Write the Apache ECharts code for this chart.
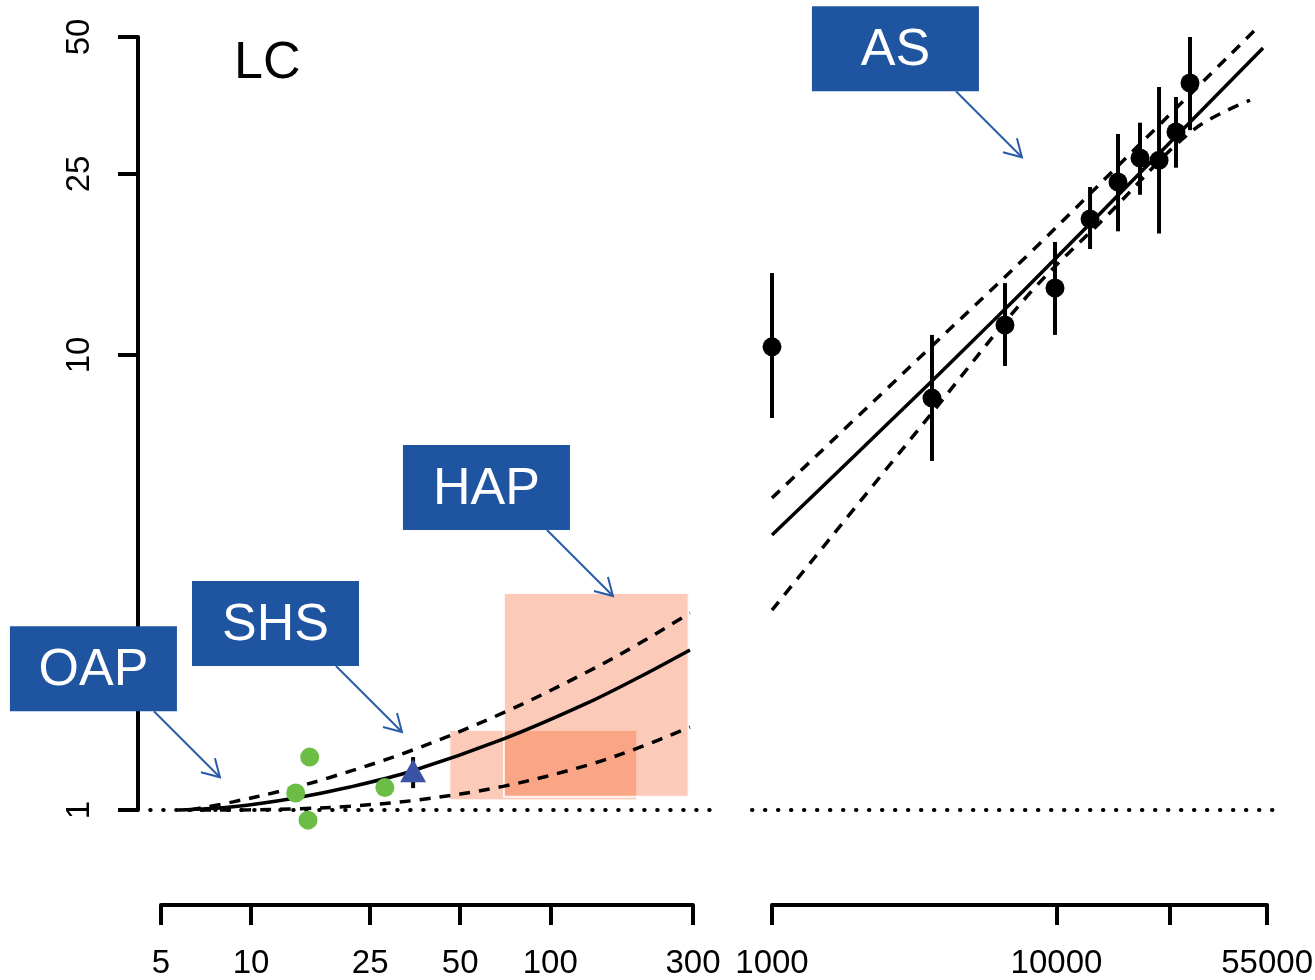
<!DOCTYPE html>
<html>
<head>
<meta charset="utf-8">
<title>LC / AS</title>
<script src="https://cdn.jsdelivr.net/npm/echarts@6.0.0/dist/echarts.min.js"></script>
<style>
  html, body { margin: 0; padding: 0; background: #fff; }
  #chart { width: 1315px; height: 980px; }
</style>
</head>
<body>
<div id="chart"></div>
<script>
// ---- data ----
const leftTicks = [5, 10, 25, 50, 100, 300];
const rightTicks = [1000, 10000, 25000, 55000];
const rightLabels = [1000, 10000, 55000];
const yTicks = [1, 10, 25, 50];

// left panel (LC): fitted curve with dashed band
const lcFit = [[5.7, 1.0], [8.7, 1.017], [14.1, 1.063], [21.4, 1.123], [34.5, 1.218], [69.5, 1.431], [132.7, 1.717], [199.5, 1.963], [293, 2.248]];
const lcUpper = [[6.25, 1.0], [8.7, 1.042], [12.5, 1.10], [18.35, 1.179], [34, 1.348], [69.5, 1.634], [132.7, 2.01], [199.5, 2.328], [293, 2.711]];
const lcLower = [[6.75, 1.0], [9.9, 1.001], [14.6, 1.0066], [21.4, 1.0194], [36.7, 1.0535], [69.5, 1.127], [132.7, 1.254], [199.5, 1.374], [293, 1.522]];
const lcRef = [[4.6, 1], [347, 1]];

// HAP boxes: [xFrom, xTo, yFrom, yTo]
const hapBoxes = [[46, 195, 1.05, 1.5], [70, 290, 1.07, 3.0]];
// SHS points (green) and the single triangle with its bar
const shsPoints = [[15.7, 1.307], [14.1, 1.09], [15.5, 0.95], [28.0, 1.12]];
const triPoint = [[34.8, 1.22]];
const triBar = [[34.8, 1.117, 1.307]];

// right panel (AS)
const asX = [1000, 3650, 6590, 9880, 13120, 16450, 19660, 22930, 26300, 29460];
const asY = [10.42, 8.04, 11.64, 14.04, 19.9, 24.0, 27.1, 26.8, 30.9, 39.6];
const asLow = [7.27, 5.85, 9.46, 11.07, 17.1, 18.7, 22.5, 18.5, 25.8, 31.2];
const asHigh = [15.14, 11.07, 14.39, 17.72, 23.4, 30.6, 32.4, 38.8, 36.9, 50.0];
const asFit = [[1000, 4.02], [2000, 6.1], [3650, 8.77], [6000, 11.9], [9880, 16.25], [20000, 25.4], [53200, 47.3]];
const asUpper = [[1000, 4.85], [3650, 10.47], [8070, 16.76], [20000, 29.4], [50670, 52.3]];
const asLower = [[1000, 2.75], [3650, 7.46], [8070, 13.69], [15000, 20.2], [30190, 31.2], [47870, 36.3]];
const asRef = [[850, 1], [58600, 1]];

// annotation tips [label, x, y]
const leftNotes = [['OAP', 7.87, 1.18], ['SHS', 31.95, 1.484], ['HAP', 162, 2.953]];
const rightNotes = [['AS', 7560, 27.2]];

// ---- layout ----
const lg = Math.log10;
const Y1 = 810, YDEC = 455;          // pixel of y=1, pixels per decade
const XL5 = 161, XLDEC = 299.2;      // left panel: pixel of x=5, px/decade
const XR1 = 772, XRDEC = 284.5;      // right panel: pixel of x=1000, px/decade
const AXIS_Y = 905;
const yRange = [0.85, 56];
const leftRange = [4.3, 352];
const rightRange = [850, 60000];
const FONT = 'Liberation Sans, Arial, sans-serif';
const BLUE = '#1F55A0';

const dataTop = Y1 - YDEC * lg(yRange[1]);
const dataHeight = YDEC * (lg(yRange[1]) - lg(yRange[0]));

const grids = [
  { left: XL5 + XLDEC * (lg(leftRange[0]) - lg(5)), width: XLDEC * (lg(leftRange[1]) - lg(leftRange[0])), top: dataTop, height: dataHeight },
  { left: XR1 + XRDEC * (lg(rightRange[0]) - 3), width: XRDEC * (lg(rightRange[1]) - lg(rightRange[0])), top: dataTop, height: dataHeight },
  { left: XL5, width: XLDEC * (lg(300) - lg(5)), top: AXIS_Y - 1, height: 1 },
  { left: XR1, width: XRDEC * (lg(55000) - 3), top: AXIS_Y - 1, height: 1 },
  { left: 138, width: 1, top: Y1 - YDEC * lg(50), height: YDEC * lg(50) }
].map(g => Object.assign(g, { outerBoundsMode: 'none', containLabel: false }));

const fmt = v => String(Math.round(v));
function shownXAxis(grid, min, max, ticks, labels) {
  return {
    type: 'log', logBase: 10, gridIndex: grid, min: min, max: max, position: 'bottom',
    axisLine: { show: true, lineStyle: { color: '#000', width: 4 } },
    axisTick: { show: true, length: 20, customValues: ticks, lineStyle: { color: '#000', width: 4 } },
    axisLabel: { customValues: labels, formatter: fmt, margin: 42, fontSize: 33, color: '#000', fontFamily: FONT },
    splitLine: { show: false }
  };
}
function hiddenLog(grid, range) {
  return { type: 'log', logBase: 10, gridIndex: grid, min: range[0], max: range[1], show: false, splitLine: { show: false } };
}
function hiddenValue(grid) {
  return { type: 'value', gridIndex: grid, min: 0, max: 1, show: false, splitLine: { show: false } };
}

function curve(data, xi, dashed) {
  return {
    type: 'line', xAxisIndex: xi, yAxisIndex: xi, data: data, showSymbol: false,
    smooth: 0.35, silent: true, z: 3,
    lineStyle: { color: '#000', width: 3.5, type: dashed ? [11, 9] : 'solid' }
  };
}
function refLine(data, xi) {
  return {
    type: 'line', xAxisIndex: xi, yAxisIndex: xi, data: data, showSymbol: false, silent: true, z: 2,
    lineStyle: { color: '#000', width: 4, type: [0.5, 12.5], cap: 'round' }
  };
}
function bars(data, xi) {
  return {
    type: 'custom', xAxisIndex: xi, yAxisIndex: xi, data: data, z: 4, silent: true,
    encode: { x: 0, y: [1, 2] },
    renderItem: function (params, api) {
      const a = api.coord([api.value(0), api.value(1)]);
      const b = api.coord([api.value(0), api.value(2)]);
      return { type: 'line', shape: { x1: a[0], y1: a[1], x2: b[0], y2: b[1] }, style: { stroke: '#000', lineWidth: 4 } };
    }
  };
}
function notes(list, xi) {
  return {
    type: 'custom', xAxisIndex: xi, yAxisIndex: xi, z: 10, silent: true,
    data: list.map(n => [n[1], n[2]]),
    encode: { x: 0, y: 1 },
    renderItem: function (params, api) {
      const tip = api.coord([api.value(0), api.value(1)]);
      const w = 167, h = 85;
      const sx = tip[0] - 66, sy = tip[1] - 66;
      const bx = sx + 23 - w, by = sy - h;
      return {
        type: 'group',
        children: [
          { type: 'rect', shape: { x: bx, y: by, width: w, height: h }, style: { fill: BLUE } },
          { type: 'text', x: bx + w / 2, y: by + h / 2 + 2, style: { text: list[params.dataIndex][0], fill: '#fff', fontSize: 52, fontFamily: FONT, align: 'center', verticalAlign: 'middle' } },
          { type: 'line', shape: { x1: sx, y1: sy, x2: tip[0], y2: tip[1] }, style: { stroke: '#2A5BA8', lineWidth: 2 } },
          { type: 'polyline', shape: { points: [[tip[0] - 19, tip[1] - 5], tip, [tip[0] - 5, tip[1] - 19]] }, style: { stroke: '#2A5BA8', lineWidth: 2, fill: null } }
        ]
      };
    }
  };
}

const chart = echarts.init(document.getElementById('chart'));
chart.setOption({
  animation: false,
  backgroundColor: '#fff',
  title: { text: 'LC', left: 229, top: 33, textStyle: { fontSize: 52, fontWeight: 'normal', color: '#000', fontFamily: FONT } },
  grid: grids,
  xAxis: [
    hiddenLog(0, leftRange),
    hiddenLog(1, rightRange),
    shownXAxis(2, 5, 300, leftTicks, leftTicks),
    shownXAxis(3, 1000, 55000, rightTicks, rightLabels),
    hiddenValue(4)
  ],
  yAxis: [
    hiddenLog(0, yRange),
    hiddenLog(1, yRange),
    hiddenValue(2),
    hiddenValue(3),
    {
      type: 'log', logBase: 10, gridIndex: 4, min: 1, max: 50, position: 'left',
      axisLine: { show: true, lineStyle: { color: '#000', width: 4 } },
      axisTick: { show: true, length: 20, customValues: yTicks, lineStyle: { color: '#000', width: 4 } },
      axisLabel: { customValues: yTicks, formatter: fmt, rotate: 90, margin: 42, fontSize: 33, color: '#000', fontFamily: FONT },
      splitLine: { show: false }
    }
  ],
  series: [
    {
      type: 'custom', xAxisIndex: 0, yAxisIndex: 0, data: hapBoxes, z: 1, silent: true,
      encode: { x: [0, 1], y: [2, 3] },
      renderItem: function (params, api) {
        const p0 = api.coord([api.value(0), api.value(3)]);
        const p1 = api.coord([api.value(1), api.value(2)]);
        return {
          type: 'rect',
          shape: { x: p0[0], y: p0[1], width: p1[0] - p0[0], height: p1[1] - p0[1] },
          style: { fill: 'rgba(244,80,20,0.30)', stroke: 'rgba(255,255,255,0.85)', lineWidth: 2 }
        };
      }
    },
    refLine(lcRef, 0),
    curve(lcFit, 0, false),
    curve(lcUpper, 0, true),
    curve(lcLower, 0, true),
    {
      type: 'scatter', xAxisIndex: 0, yAxisIndex: 0, data: shsPoints, symbol: 'circle', symbolSize: 19, z: 5, silent: true,
      itemStyle: { color: '#6BBD46', opacity: 1 }
    },
    bars(triBar, 0),
    {
      type: 'scatter', xAxisIndex: 0, yAxisIndex: 0, data: triPoint, symbol: 'triangle', symbolSize: [26, 23], z: 5, silent: true,
      itemStyle: { color: '#3A53A4', opacity: 1 }
    },
    refLine(asRef, 1),
    curve(asFit, 1, false),
    curve(asUpper, 1, true),
    curve(asLower, 1, true),
    bars(asX.map((x, i) => [x, asLow[i], asHigh[i]]), 1),
    {
      type: 'scatter', xAxisIndex: 1, yAxisIndex: 1, data: asX.map((x, i) => [x, asY[i]]), symbol: 'circle', symbolSize: 19, z: 5, silent: true,
      itemStyle: { color: '#000', opacity: 1 }
    },
    notes(leftNotes, 0),
    notes(rightNotes, 1)
  ]
});
</script>
</body>
</html>
